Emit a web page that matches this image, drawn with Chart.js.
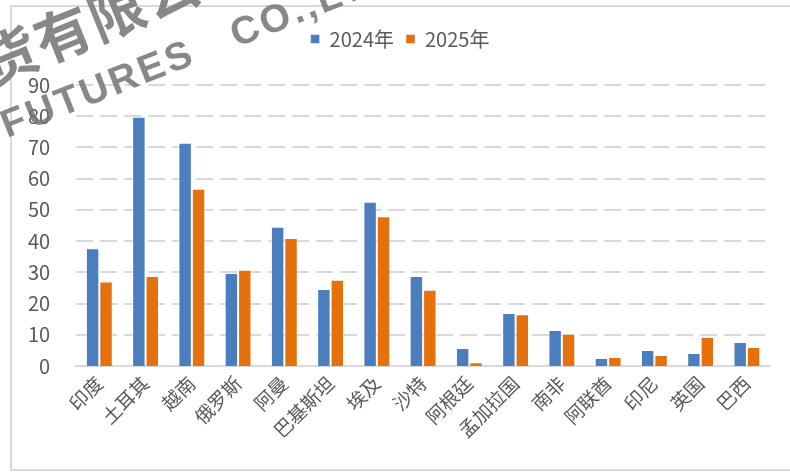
<!DOCTYPE html>
<html>
<head>
<meta charset="utf-8">
<script src="https://cdn.jsdelivr.net/npm/chart.js@4/dist/chart.umd.min.js"></script>
<style>
  html, body { margin: 0; padding: 0; background: #fff; }
  #wrap { position: relative; width: 790px; height: 474px; }
</style>
</head>
<body>
<div id="wrap"><canvas id="chart" width="790" height="474"></canvas></div>
<script>
var countries = ['印度', '土耳其', '越南', '俄罗斯', '阿曼', '巴基斯坦', '埃及', '沙特', '阿根廷', '孟加拉国', '南非', '阿联酋', '印尼', '英国', '巴西'];
var values2024 = [37.7, 79.8, 71.5, 29.8, 44.6, 24.7, 52.6, 28.8, 5.8, 17.0, 11.5, 2.6, 5.1, 4.2, 7.7];
var values2025 = [27.1, 28.8, 56.8, 30.8, 41.0, 27.6, 48.0, 24.4, 1.2, 16.6, 10.3, 2.9, 3.5, 9.3, 6.1];
var yTicks = [0, 10, 20, 30, 40, 50, 60, 70, 80, 90];

var gray = '#595959';

// frame, legend room, dashed grid, watermark
var decor = {
    id: 'decor',
    beforeInit: function(chart) {
        var fit = chart.legend.fit;
        chart.legend.fit = function() {
            fit.bind(chart.legend)();
            this.height = 68;
        };
    },
    afterLayout: function(chart) {
        chart.legend.left += 14;
        chart.legend.right += 14;
    },
    beforeDraw: function(chart) {
        var ctx = chart.ctx;
        ctx.save();
        ctx.fillStyle = '#fff';
        ctx.fillRect(0, 0, chart.width, chart.height);
        ctx.strokeStyle = '#d9d9d9';
        ctx.lineWidth = 2;
        ctx.strokeRect(11, 6, chart.width, chart.height - 10);
        ctx.restore();
    },
    beforeDatasetsDraw: function(chart) {
        var ctx = chart.ctx;
        var area = chart.chartArea;
        var y = chart.scales.y;
        ctx.save();
        ctx.fillStyle = '#d9d9d9';
        yTicks.forEach(function(v) {
            if (v === 0) return;
            var py = Math.round(y.getPixelForValue(v)) - 1;
            // dashes one by one
            for (var x = area.left; x < area.right; x += 24) {
                ctx.fillRect(x, py, Math.min(17, area.right - x), 2);
            }
        });
        ctx.restore();
    },
    afterDraw: function(chart) {
        var ctx = chart.ctx;
        ctx.save();
        ctx.fillStyle = 'rgba(115,115,115,0.85)';
        ctx.translate(-17, 66);
        ctx.rotate(-22 * Math.PI / 180);
        ctx.font = 'bold 56px "Noto Sans CJK SC"';
        ctx.letterSpacing = '2px';
        ctx.fillText('货有限公司', 0, 0);
        ctx.restore();

        ctx.save();
        ctx.fillStyle = 'rgba(115,115,115,0.85)';
        ctx.translate(3, 128);
        ctx.rotate(-21.5 * Math.PI / 180);
        ctx.font = 'bold 39px "Liberation Sans"';
        ctx.letterSpacing = '3px';
        ctx.fillText('FUTURES   CO.,LTD', 0, 0);
        ctx.restore();
    }
};

var ctx = document.getElementById('chart').getContext('2d');
var chart = new Chart(ctx, {
    type: 'bar',
    data: {
        labels: countries,
        datasets: [{
            label: '2024年',
            data: values2024,
            backgroundColor: '#4a7ebf',
            borderColor: 'rgba(255,255,255,0.5)',
            borderWidth: 1,
            barPercentage: 1,
            categoryPercentage: 0.58
        }, {
            label: '2025年',
            data: values2025,
            backgroundColor: '#e5700c',
            borderColor: 'rgba(255,255,255,0.5)',
            borderWidth: 1,
            barPercentage: 1,
            categoryPercentage: 0.58
        }]
    },
    options: {
        responsive: false,
        animation: false,
        layout: { padding: { left: 2, right: 20, top: 17, bottom: 0 } },
        plugins: {
            legend: {
                position: 'top',
                labels: {
                    boxWidth: 9,
                    boxHeight: 9,
                    padding: 12,
                    color: gray,
                    font: { family: '"Noto Sans CJK SC"', size: 20 }
                }
            },
            tooltip: { enabled: false }
        },
        scales: {
            x: {
                grid: { display: false, drawTicks: false },
                border: { color: '#d9d9d9', width: 2 },
                afterFit: function(scale) {
                    scale.height = 108;
                },
                ticks: {
                    color: gray,
                    minRotation: 45,
                    maxRotation: 45,
                    padding: 6,
                    font: { family: '"Noto Sans CJK SC"', size: 19 }
                }
            },
            y: {
                min: 0,
                max: 90,
                afterBuildTicks: function(axis) {
                    axis.ticks = yTicks.map(function(v) { return { value: v }; });
                },
                grid: { display: false, drawTicks: false },
                border: { display: false },
                ticks: {
                    color: gray,
                    padding: 26,
                    font: { family: '"Noto Sans CJK SC"', size: 20 }
                }
            }
        }
    },
    plugins: [decor]
});
</script>
</body>
</html>
